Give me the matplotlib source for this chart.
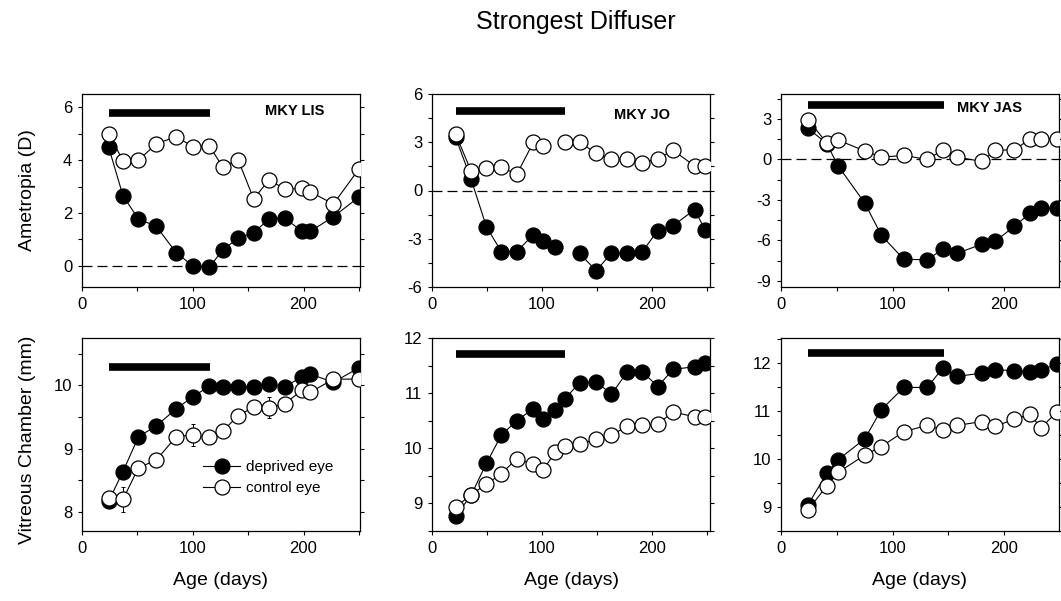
import numpy as np
import matplotlib
matplotlib.use("Agg")
import matplotlib.pyplot as plt
from matplotlib.lines import Line2D
from matplotlib.ticker import MultipleLocator

plt.rcParams["font.family"] = ["Liberation Sans", "DejaVu Sans"]
plt.rcParams["axes.unicode_minus"] = False

nan = np.nan

# ages (days) of each measurement
lis_age = [24, 37, 51, 67, 85, 100, 115, 127, 141, 155, 169, 183, 199, 206, 227, 250]
jo_age = [21.5, 35.5, 49.5, 63, 77, 92, 101, 112, 120.5, 134, 149, 163, 177.5, 191, 205, 219, 238.5, 248]
jas_age = [24, 41, 51, 75, 90, 110, 131, 145, 158, 180, 192, 209, 223, 233, 247]

# ametropia (D)
lis_ref_dep = [4.5, 2.65, 1.77, 1.5, 0.5, 0.0, -0.05, 0.6, 1.05, 1.26, 1.77, 1.8, 1.3, 1.3, 1.86, 2.6]
lis_ref_con = [5.0, 3.98, 4.0, 4.61, 4.89, 4.51, 4.53, 3.75, 4.01, 2.53, 3.26, 2.9, 2.93, 2.8, 2.34, 3.66]
jo_ref_dep = [3.3, 0.7, -2.27, -3.8, -3.8, -2.75, -3.17, -3.49, nan, -3.9, -4.99, -3.9, -3.9, -3.8, -2.5, -2.19, -1.19, -2.44]
jo_ref_con = [3.5, 1.21, 1.42, 1.46, 1.0, 2.99, 2.78, nan, 3.0, 3.0, 2.32, 1.94, 1.94, 1.73, 1.98, 2.5, 1.53, 1.53]
jas_ref_dep = [2.32, 1.18, -0.46, -3.23, -5.63, -7.4, -7.43, -6.64, -6.95, -6.27, -6.06, -4.95, -3.99, -3.61, -3.61]
jas_ref_con = [2.95, 1.23, 1.44, 0.63, 0.17, 0.3, 0.0, 0.7, 0.17, -0.15, 0.7, 0.7, 1.52, 1.52, 1.52]

# vitreous chamber depth (mm)
lis_vc_dep = [8.17, 8.64, 9.19, 9.36, 9.63, 9.82, 9.99, 9.98, 9.98, 9.98, 10.03, 9.98, 10.14, 10.18, 10.05, 10.28]
lis_vc_con = [8.22, 8.2, 8.7, 8.82, 9.19, 9.22, 9.18, 9.28, 9.52, 9.66, 9.65, 9.71, 9.93, 9.89, 10.1, 10.1]
lis_vc_con_err = [0, 0.2, 0, 0, 0, 0.17, 0, 0, 0, 0, 0.16, 0, 0, 0, 0, 0]
jo_vc_dep = [8.77, 9.15, 9.73, 10.24, 10.5, 10.72, 10.53, 10.69, 10.89, 11.19, 11.21, 10.98, 11.39, 11.39, 11.12, 11.43, 11.48, 11.54]
jo_vc_con = [8.93, 9.16, 9.35, 9.54, 9.81, 9.71, 9.61, 9.93, 10.05, 10.08, 10.16, 10.24, 10.4, 10.42, 10.44, 10.66, 10.57, 10.57]
jas_vc_dep = [9.04, 9.7, 9.98, 10.42, 11.03, 11.49, 11.49, 11.9, 11.72, 11.79, 11.86, 11.84, 11.82, 11.86, 11.97]
jas_vc_con = [8.93, 9.44, 9.72, 10.08, 10.26, 10.57, 10.7, 10.6, 10.7, 10.78, 10.68, 10.83, 10.93, 10.65, 10.98]

# diffuser-wearing period (days)
lis_period = [24, 116]
jo_period = [21.5, 121]
jas_period = [24, 146]

monkeys = ["MKY LIS", "MKY JO", "MKY JAS"]

fig = plt.figure(figsize=(10.61, 6.01), dpi=100)

lefts = [82 / 1061, 432 / 1061, 781 / 1061]
w = 278 / 1061
h = 193 / 601
bottoms = [1 - 287 / 601, 1 - 531 / 601]

top_cfg = [
    (lis_age, lis_ref_dep, lis_ref_con, lis_period, (-0.8, 6.5), 2, 1, 5.8, (0.766, 0.914)),
    (jo_age, jo_ref_dep, jo_ref_con, jo_period, (-6, 6), 3, 1.5, 4.95, (0.755, 0.892)),
    (jas_age, jas_ref_dep, jas_ref_con, jas_period, (-9.45, 4.85), 3, 1.5, 4.05, (0.751, 0.929)),
]
bot_cfg = [
    (lis_age, lis_vc_dep, lis_vc_con, lis_period, (7.7, 10.75), 1, 0.5, 10.29),
    (jo_age, jo_vc_dep, jo_vc_con, jo_period, (8.5, 12.0), 1, 0.5, 11.71),
    (jas_age, jas_vc_dep, jas_vc_con, jas_period, (8.5, 12.52), 1, 0.5, 12.21),
]


def style_axis(ax, ylim, major, minor, xmax):
    ax.set_xlim(0, xmax)
    ax.set_ylim(*ylim)
    ax.xaxis.set_major_locator(MultipleLocator(100))
    ax.xaxis.set_minor_locator(MultipleLocator(50))
    ax.yaxis.set_major_locator(MultipleLocator(major))
    ax.yaxis.set_minor_locator(MultipleLocator(minor))
    ax.tick_params(which="both", direction="out", length=3, width=0.8,
                   left=True, right=True, top=False, bottom=True,
                   labelsize=12, pad=4)
    for s in ax.spines.values():
        s.set_linewidth(0.9)


def draw_series(ax, age, dep, con, con_err=None):
    ax.plot(age, dep, "-o", color="black", lw=0.8, ms=10.8, mfc="black",
            mec="black", mew=0.9, zorder=3)
    if con_err is not None:
        ax.errorbar(age, con, yerr=con_err, fmt="none", ecolor="black",
                    elinewidth=0.7, capsize=1.5, capthick=0.7, zorder=3.5)
    ax.plot(age, con, "-o", color="black", lw=0.8, ms=10.8, mfc="white",
            mec="black", mew=0.9, zorder=4)


xmaxes = [251, 252.5, 249]

for i, (age, dep, con, period, ylim, major, minor, bar_y, lab_xy) in enumerate(top_cfg):
    ax = fig.add_axes([lefts[i], bottoms[0], w, h])
    style_axis(ax, ylim, major, minor, xmaxes[i])
    ax.axhline(0, color="black", lw=0.9, dashes=(8, 4), zorder=1)
    ax.plot(period, [bar_y, bar_y], color="black", lw=5.5,
            solid_capstyle="butt", zorder=2)
    draw_series(ax, age, dep, con)
    ax.text(lab_xy[0], lab_xy[1], monkeys[i], transform=ax.transAxes,
            ha="center", va="center", fontsize=10.5, fontweight="bold")

for i, (age, dep, con, period, ylim, major, minor, bar_y) in enumerate(bot_cfg):
    ax = fig.add_axes([lefts[i], bottoms[1], w, h])
    style_axis(ax, ylim, major, minor, xmaxes[i])
    ax.plot(period, [bar_y, bar_y], color="black", lw=5.5,
            solid_capstyle="butt", zorder=2)
    draw_series(ax, age, dep, con, lis_vc_con_err if i == 0 else None)
    ax.set_xlabel("Age (days)", fontsize=14, labelpad=12)
    if i == 0:
        handles = [
            Line2D([], [], color="black", lw=0.8, marker="o", ms=10.8,
                   mfc="black", mec="black", mew=0.9),
            Line2D([], [], color="black", lw=0.8, marker="o", ms=10.8,
                   mfc="white", mec="black", mew=0.9),
        ]
        ax.legend(handles, ["deprived eye", "control eye"], loc="center",
                  bbox_to_anchor=(0.67, 0.275), frameon=False, fontsize=11,
                  handlelength=2.4, handletextpad=0.4, labelspacing=0.45,
                  borderpad=0)

fig.text(576 / 1061, 1 - 22 / 601, "Strongest Diffuser", ha="center",
         va="center", fontsize=18)
fig.text(28 / 1061, 1 - 190 / 601, "Ametropia (D)", ha="center",
         va="center", rotation=90, fontsize=14)
fig.text(28 / 1061, 1 - 440 / 601, "Vitreous Chamber (mm)", ha="center",
         va="center", rotation=90, fontsize=14)

fig.savefig("out.png", dpi=100)
